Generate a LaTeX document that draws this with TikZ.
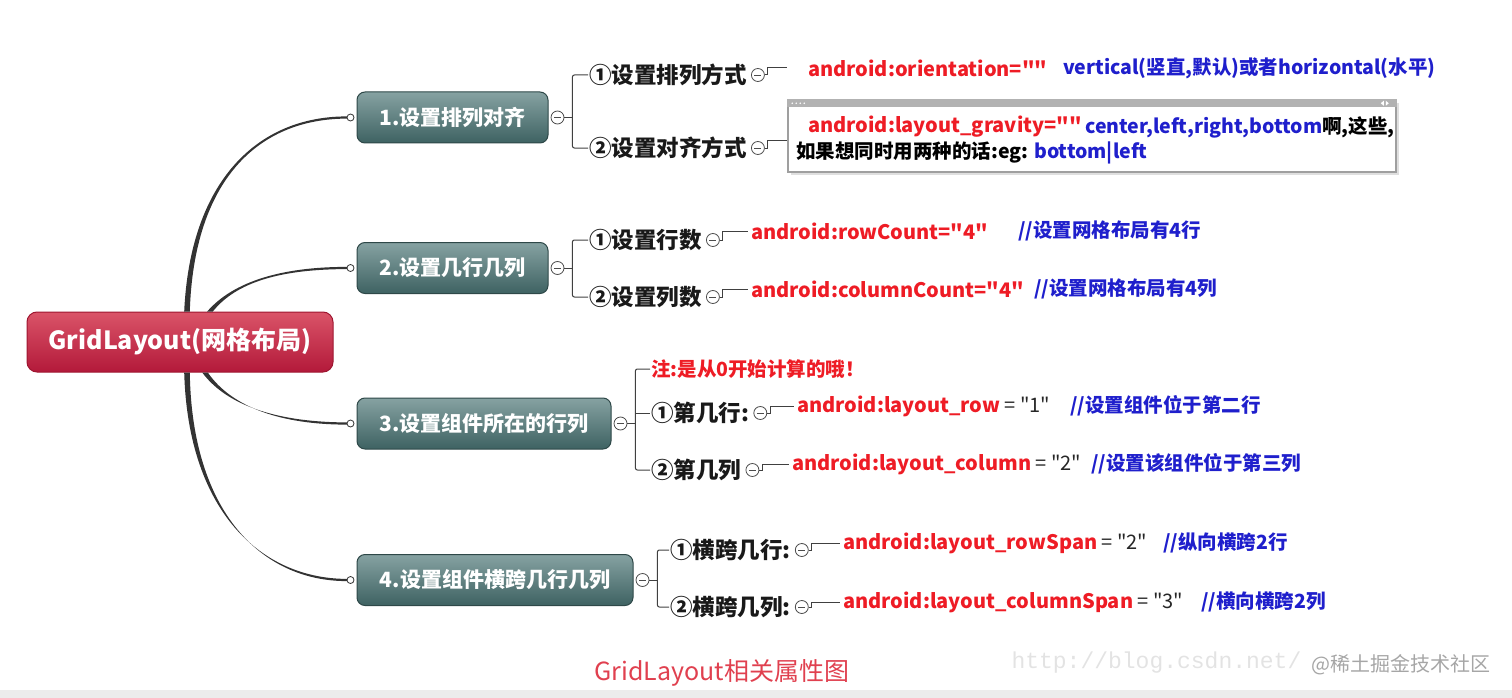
\documentclass[tikz,border=0pt]{standalone}
\usepackage{fontspec}
\setmainfont{Noto Sans CJK SC}[Ligatures=TeXOff]
\newfontfamily\urlfont{Liberation Mono}
\usetikzlibrary{calc}

\definecolor{rootTop}{HTML}{DA5468}
\definecolor{rootBot}{HTML}{B3193A}
\definecolor{rootLine}{HTML}{9E1630}
\definecolor{topicTop}{HTML}{86A2A2}
\definecolor{topicBot}{HTML}{3E6262}
\definecolor{topicLine}{HTML}{2E4848}
\definecolor{codeRed}{HTML}{EE1C25}
\definecolor{noteBlue}{HTML}{1F1FCC}
\definecolor{branchCol}{HTML}{333333}
\definecolor{capRed}{HTML}{E0404F}

\tikzset{
 rootbox/.style={draw=rootLine, line width=1pt, rounded corners=10pt,
   top color=rootTop, bottom color=rootBot, text=white,
   font=\bfseries\fontsize{25}{30}\selectfont, minimum height=60pt},
 topicbox/.style={draw=topicLine, line width=1pt, rounded corners=8pt,
   top color=topicTop, bottom color=topicBot, text=white,
   font=\bfseries\fontsize{21}{25}\selectfont, minimum height=51pt},
 fold/.style={circle, draw=black!70, fill=white, line width=0.8pt,
   inner sep=0pt, minimum size=#1,
   path picture={\draw[line width=0.8pt]
     ($(path picture bounding box.west)+(3,0)$) --
     ($(path picture bounding box.east)+(-3,0)$);}},
 fold/.default=13pt,
 knob/.style={circle, draw=black!80, fill=white, line width=0.8pt,
   inner sep=0pt, minimum size=7pt},
 subtopic/.style={anchor=west, inner sep=1pt, text=black!90,
   font=\bfseries\fontsize{22.5}{26}\selectfont},
 codetext/.style={anchor=west, inner sep=1pt, text=codeRed,
   font=\bfseries\fontsize{20}{24}\selectfont},
 remarktext/.style={codetext, text=noteBlue,
   font=\bfseries\fontsize{19.5}{23}\selectfont},
 linkline/.style={draw=black!75, line width=1pt},
}

\begin{document}
\begin{tikzpicture}[x=1pt,y=-1pt]
\useasboundingbox (0,0) rectangle (1512,698);

\newcommand{\branch}[4]% start, control 1, control 2, end
{
 \fill[branchCol] ($#1+(-2.8,0)$) .. controls ($#2+(-1.8,0)$) and ($#3+(0,-1.2)$) .. ($#4+(0,-1.1)$)
   -- ($#4+(0,1.1)$) .. controls ($#3+(0,1.2)$) and ($#2+(1.8,0)$) .. ($#1+(2.8,0)$) -- cycle;
}
\newcommand{\leaflink}[3]% fold, text, gap
{
 \draw[linkline] (#1.east) -- ++(3,0) |- ($(#2.west)+(-#3,0)$);
}

% central topic and main topics
\node[rootbox, minimum width=306pt] (root) at (180,342) {GridLayout(网格布局)};
\node[topicbox, minimum width=191pt] (t1) at (452.5,117.5) {1.设置排列对齐};
\node[topicbox, minimum width=191pt] (t2) at (452.5,268) {2.设置几行几列};
\node[topicbox, minimum width=254pt] (t3) at (484,423.5) {3.设置组件所在的行列};
\node[topicbox, minimum width=276pt] (t4) at (495,580) {4.设置组件横跨几行几列};

\foreach \t in {1,...,4}
 \coordinate (e\t) at ($(t\t.west)+(-9.5,0)$);

\branch{(root.north)+(7,0)}{(root.north)+(12,-130)}{(e1)+(-90,0)}{(e1)}
\branch{(root.north)+(30,0)}{(root.north)+(55,-30)}{(e2)+(-65,0)}{(e2)}
\branch{(root.south)+(25,0)}{(root.south)+(50,35)}{(e3)+(-65,0)}{(e3)}
\branch{(root.south)+(7,0)}{(root.south)+(10,140)}{(e4)+(-85,0)}{(e4)}

\foreach \t in {1,...,4} {
 \node[knob] (k\t) at ($(t\t.west)+(-6,0)$) {};
 \node[fold] (f\t) at ($(t\t.east)+(9,0)$) {};
 \coordinate (b\t) at ($(f\t.east)+(8,0)$);
 \draw[linkline] (f\t.east) -- (b\t);
}

% sub topics
\node[subtopic] (s11) at (588,75) {①设置排列方式};
\node[subtopic] (s12) at (588,148) {②设置对齐方式};
\node[subtopic] (s21) at (588,240) {①设置行数};
\node[subtopic] (s22) at (588,297) {②设置列数};
\node[subtopic, text=codeRed, font=\bfseries\fontsize{19.5}{23}\selectfont] (s30) at (650,369) {注:是从0开始计算的哦！};
\node[subtopic] (s31) at (650,413) {①第几行:};
\node[subtopic] (s32) at (650,470) {②第几列};
\node[subtopic] (s41) at (669,550) {①横跨几行:};
\node[subtopic] (s42) at (669,607) {②横跨几列:};

\draw[linkline, rounded corners=2pt] (s11.west) -| (b1) |- (s12.west);
\draw[linkline, rounded corners=2pt] (s21.west) -| (b2) |- (s22.west);
\draw[linkline, rounded corners=2pt] (s30.west) -| (b3) |- (s32.west);
\draw[linkline] (b3 |- s31.west) -- (s31.west);
\draw[linkline, rounded corners=2pt] (s41.west) -| (b4) |- (s42.west);

\foreach \s in {11,12,21,22,31,32,41,42}
 \node[fold] (g\s) at ($(s\s.east)+(10,0)$) {};

% 1. orientation / gravity
\node[codetext] (c11) at (807,68) {android:orientation=""};
\node[remarktext] (r11) at (1062,68) {vertical(竖直,默认)或者horizontal(水平)};
\leaflink{g11}{c11}{20}

\fill[gray!25] (791,103) rectangle (1399,175);
\node[draw=gray!75, line width=1.5pt, fill=white, minimum width=608pt,
  minimum height=72pt, inner sep=0pt] (gbox) at (1092,136) {};
\fill[gray!60] (gbox.north west) rectangle ($(gbox.north east)+(0,8)$);
\foreach \x in {0,...,3}
 \fill[white] ($(gbox.north west)+(5+4*\x,4)$) circle (0.8);
\fill[white] ($(gbox.north east)+(-16,4)$) -- ++(3,-2.5) -- ++(0,5) -- cycle;
\fill[white] ($(gbox.north east)+(-8,4)$) -- ++(-3,-2.5) -- ++(0,5) -- cycle;
\node[codetext] (c12) at (807,127) {android:layout\_gravity=""};
\node[remarktext] (r12) at (1084,127) {center,left,right,bottom{\color{black}啊,这些,}};
\node[remarktext, text=black] (r12b) at (795,153) {如果想同时用两种的话:eg: {\color{noteBlue}bottom|left}};
\draw[linkline] (g12.east) -- ++(3,0) |- ($(gbox.west)+(0,5)$);

% 2. rows and columns
\node[codetext] (c21) at (750,231) {android:rowCount="4"};
\node[remarktext] (r21) at (1017,231) {//设置网格布局有4行};
\node[codetext] (c22) at (750,289) {android:columnCount="4"};
\node[remarktext] (r22) at (1033,289) {//设置网格布局有4列};
\leaflink{g21}{c21}{2}
\leaflink{g22}{c22}{2}

% 3. position of the component
\node[codetext] (c31) at (796,406) {android:layout\_row{\color{black!85}\mdseries\ = "1"}};
\node[remarktext] (r31) at (1069,406) {//设置组件位于第二行};
\node[codetext] (c32) at (791,464) {android:layout\_column{\color{black!85}\mdseries\ = "2"}};
\node[remarktext] (r32) at (1090,464) {//设置该组件位于第三列};
\leaflink{g31}{c31}{2}
\leaflink{g32}{c32}{2}

% 4. spans
\node[codetext] (c41) at (842,543) {android:layout\_rowSpan{\color{black!85}\mdseries\ = "2"}};
\node[remarktext] (r41) at (1162,543) {//纵向横跨2行};
\node[codetext] (c42) at (842,602) {android:layout\_columnSpan{\color{black!85}\mdseries\ = "3"}};
\node[remarktext] (r42) at (1200,602) {//横向横跨2列};
\leaflink{g41}{c41}{2}
\leaflink{g42}{c42}{2}

% caption and watermark
\node[font=\fontsize{25}{30}\selectfont, text=capRed] (cap) at (722,673) {GridLayout相关属性图};
\node[anchor=west, font=\urlfont\fontsize{23}{26}\selectfont, text=gray!22] (url) at (1008,663) {http://blog.csdn.net/};
\node[anchor=east, font=\fontsize{20}{24}\selectfont, text=gray!70] (mark) at (1494,665) {@稀土掘金技术社区};
\fill[gray!15] (0,690) rectangle (1512,698);

\end{tikzpicture}
\end{document}
